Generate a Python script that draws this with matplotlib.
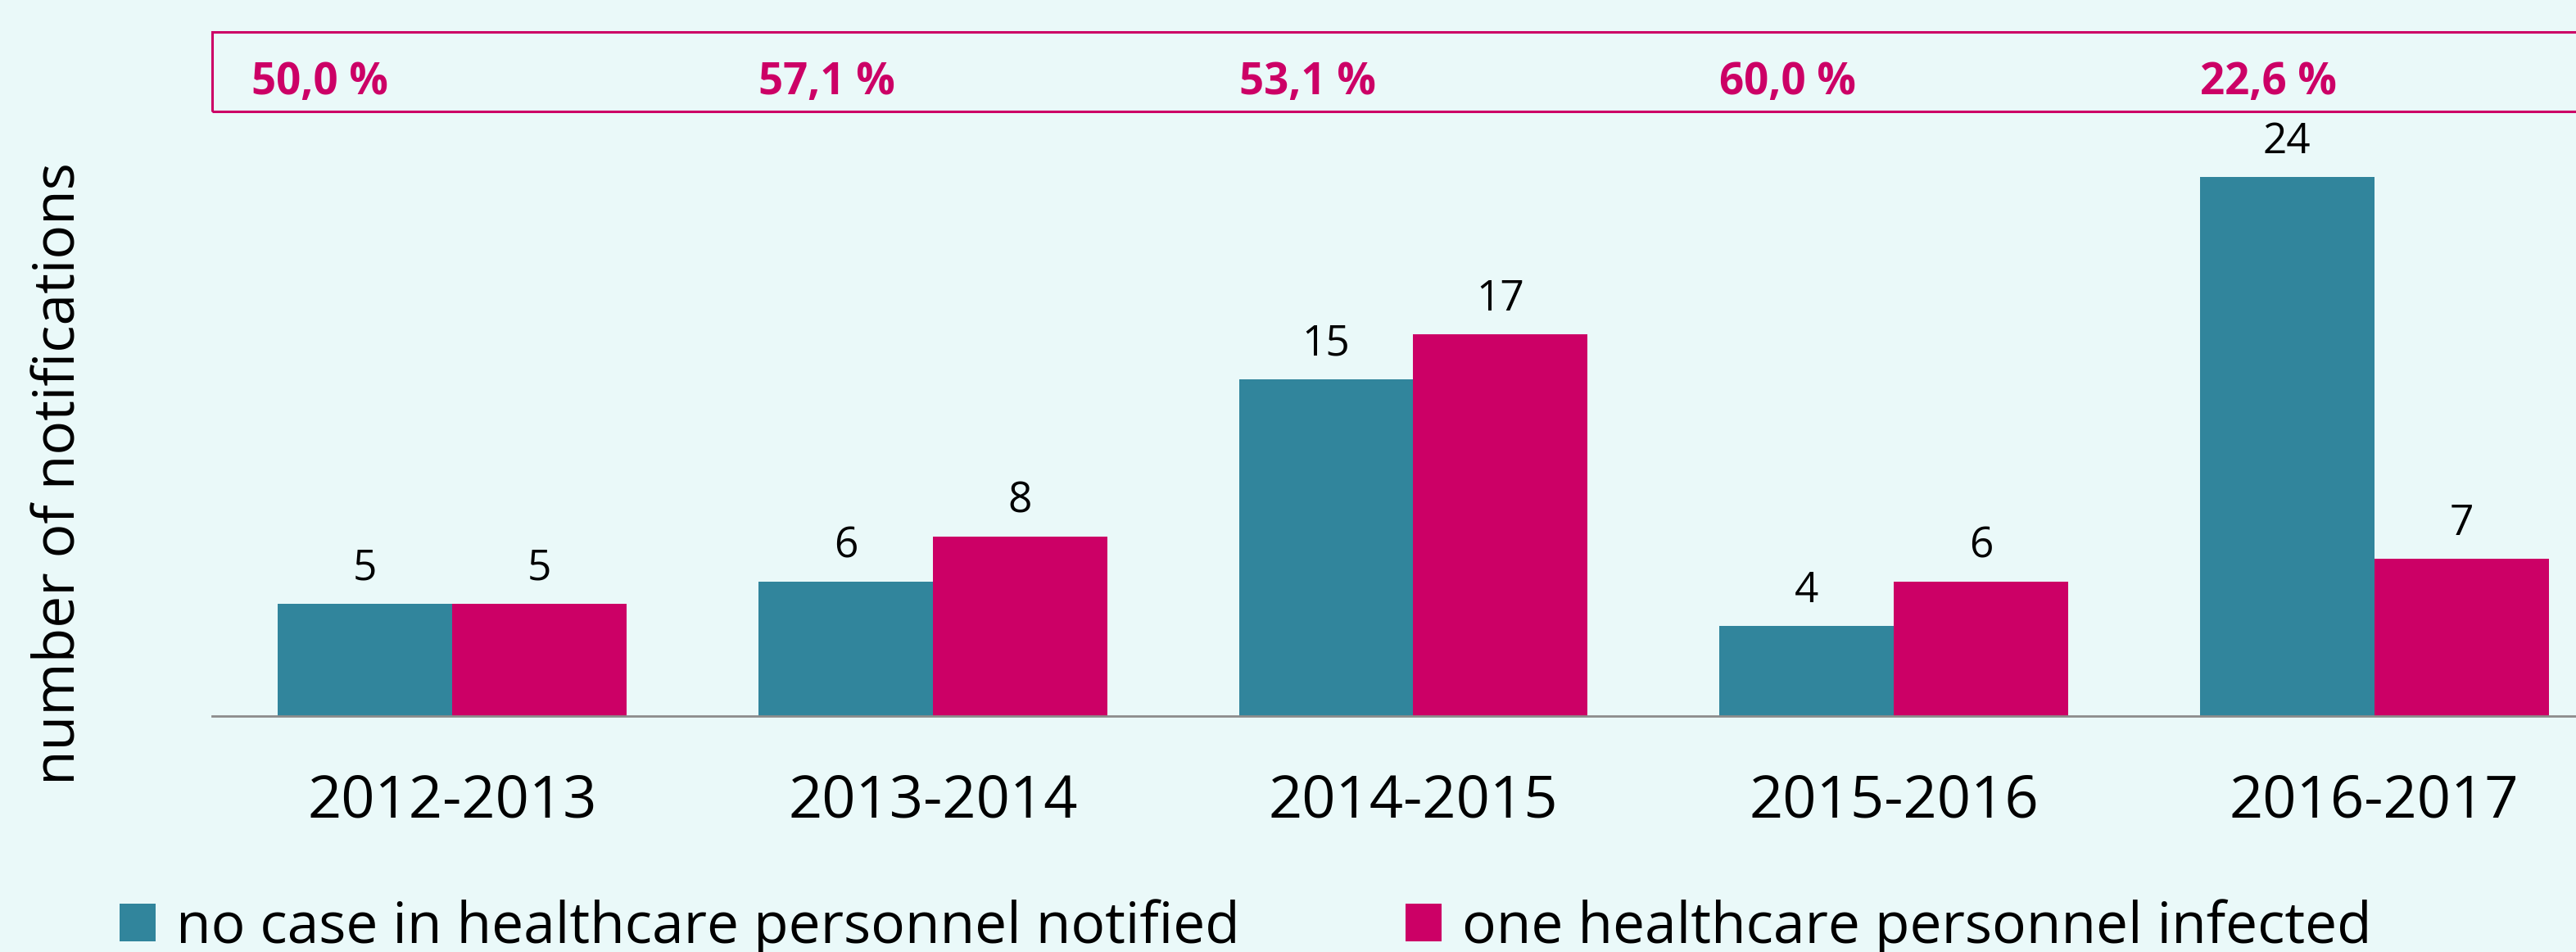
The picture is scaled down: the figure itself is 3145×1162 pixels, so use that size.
import matplotlib
matplotlib.use("Agg")
import matplotlib.pyplot as plt
from matplotlib.patches import Patch, Rectangle
import numpy as np

seasons = ["2012-2013", "2013-2014", "2014-2015", "2015-2016", "2016-2017"]
no_case = [5, 6, 15, 4, 24]
one_infected = [5, 8, 17, 6, 7]
pct_labels = ["50,0 %", "57,1 %", "53,1 %", "60,0 %", "22,6 %"]
series_names = ["no case in healthcare personnel notified", "one healthcare personnel infected"]
ylabel = "number of notifications"

TEAL = "#31859C"
PINK = "#CC0066"
BG = "#EAF9F9"

plt.rcParams["font.family"] = ["Open Sans", "DejaVu Sans"]

W, H = 3145, 1162
fig = plt.figure(figsize=(W / 100, H / 100), dpi=100, facecolor=BG)
ax = fig.add_axes([259 / W, (H - 874) / H, 1 - 259 / W, 874 / H])
ax.set_facecolor(BG)

x = np.arange(len(seasons))
bw = 0.363
b1 = ax.bar(x - bw / 2, no_case, bw, color=TEAL)
b2 = ax.bar(x + bw / 2, one_infected, bw, color=PINK)

ax.set_xlim(-0.5, 4.42)
ax.set_ylim(0, 874 / 27.4)

for bars, vals in ((b1, no_case), (b2, one_infected)):
    for rect, v in zip(bars, vals):
        ax.annotate(str(v), (rect.get_x() + rect.get_width() / 2, v),
                    xytext=(0, 21), textcoords="offset points",
                    ha="center", va="baseline", fontsize=37, color="black")

for s in ["top", "right", "left"]:
    ax.spines[s].set_visible(False)
ax.spines["bottom"].set_color("#8c8c8c")
ax.spines["bottom"].set_linewidth(2)
ax.set_yticks([])
ax.set_xticks(x)
ax.set_xticklabels(seasons, fontsize=52)
ax.tick_params(axis="x", length=0, pad=50)

# percentage box
fig.patches.append(Rectangle((259 / W, (H - 136) / H), 1.0, 97 / H,
                             transform=fig.transFigure, fill=False,
                             edgecolor=PINK, linewidth=2.2))
trans = matplotlib.transforms.blended_transform_factory(ax.transData, fig.transFigure)
for i, lab in enumerate(pct_labels):
    xpos = x[i] - bw - (0.055 if i == 0 else 0.0)
    ax.text(xpos, (H - 101) / H, lab, transform=trans, ha="left", va="center",
            fontsize=38, fontweight="bold", color=PINK, clip_on=False)

fig.text(74 / W, 1 - 578 / H, ylabel, rotation=90, ha="center", va="center", fontsize=50)

handles = [Patch(facecolor=TEAL), Patch(facecolor=PINK)]
fig.legend(handles, series_names, loc="lower left", bbox_to_anchor=(146 / W, -0.005),
           ncol=2, frameon=False, fontsize=50, handlelength=0.64, handleheight=0.64,
           handletextpad=0.36, columnspacing=2.9, borderpad=0, borderaxespad=0)

fig.savefig("out.png", dpi=100, facecolor=BG)
